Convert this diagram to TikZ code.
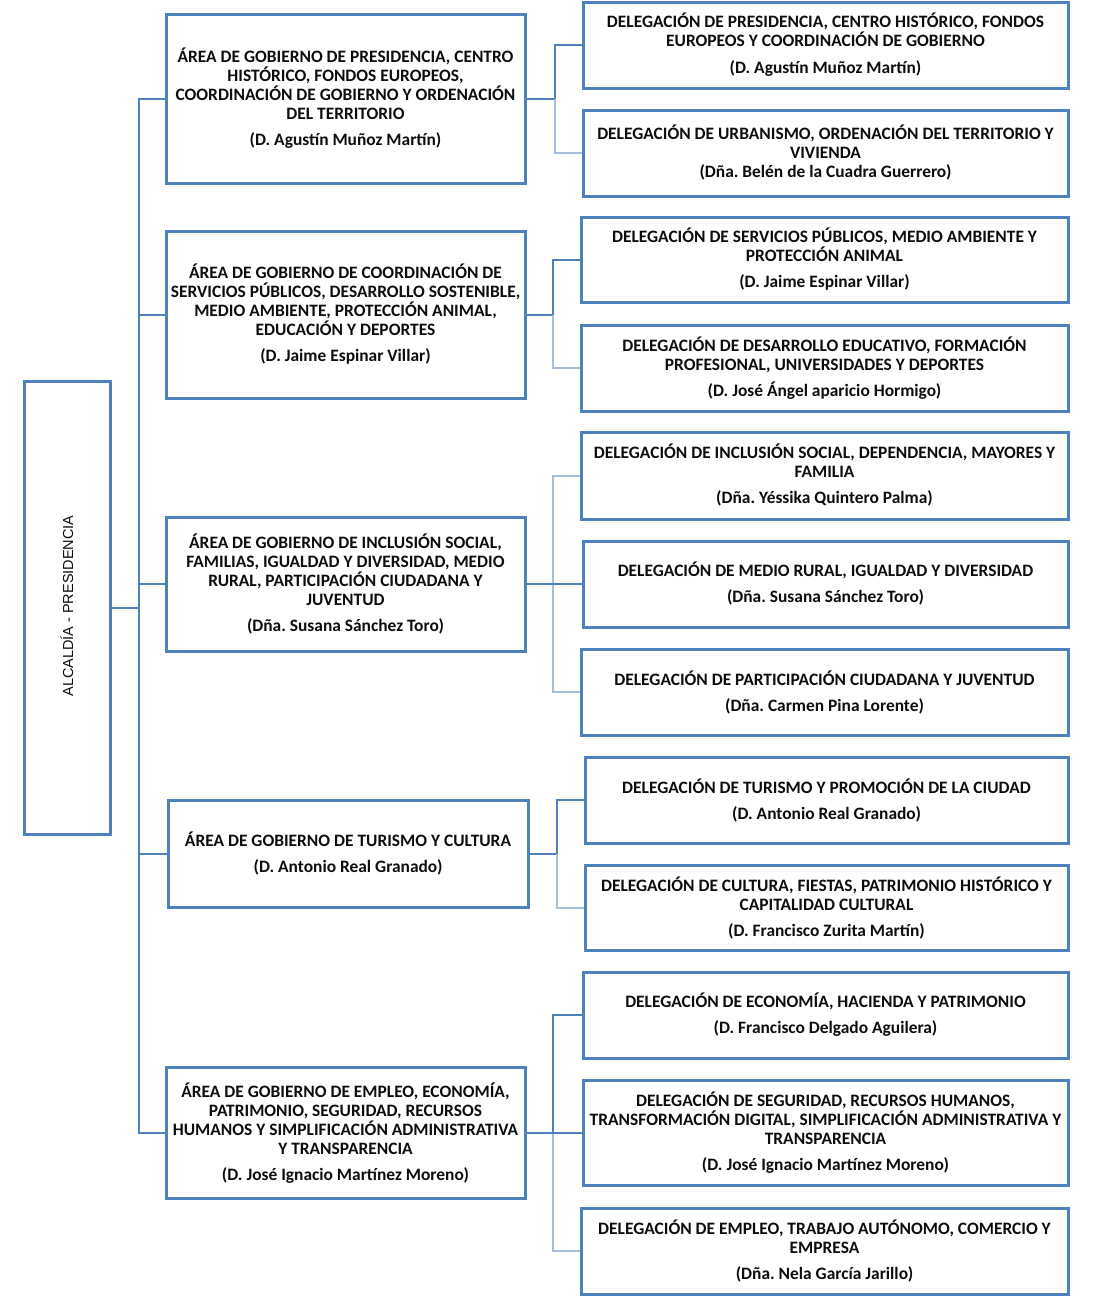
\documentclass[tikz,border=0pt]{standalone}
\usepackage{fontspec}
\setmainfont{Carlito}
\newfontfamily\rootfont{Liberation Sans}
\definecolor{boxblue}{HTML}{4F81BD}
\definecolor{lineblue}{HTML}{4F81BD}
\definecolor{lightblue}{HTML}{A5BFDD}
\begin{document}
\frenchspacing
\begin{tikzpicture}[x=1pt,y=-1pt,
  box/.style={draw=boxblue, line width=3pt, align=center, inner sep=0pt,
    font=\fontsize{17.4}{19}\selectfont\bfseries, text=black!95},
  conn/.style={draw=lineblue, line width=2pt},
  connl/.style={draw=lightblue, line width=2pt}]
\useasboundingbox (0,0) rectangle (1095,1296);

% root
\node[draw=boxblue, line width=3pt, minimum width=86pt, minimum height=453pt] (R) at (67,607.5) {};
\node[rotate=90, font=\rootfont\fontsize{14.5}{17}\selectfont, text=black!95] (Rt) at (67,606) {ALCALDÍA - PRESIDENCIA};

% areas
\node[box, minimum width=359pt, minimum height=169pt] (A1) at (345.5,98.5)
 {ÁREA DE GOBIERNO DE PRESIDENCIA, CENTRO\\HISTÓRICO, FONDOS EUROPEOS,\\COORDINACIÓN DE GOBIERNO Y ORDENACIÓN\\DEL TERRITORIO\\[7pt](D. Agustín Muñoz Martín)};
\node[box, minimum width=359pt, minimum height=167pt] (A2) at (345.5,314.5)
 {ÁREA DE GOBIERNO DE COORDINACIÓN DE\\SERVICIOS PÚBLICOS, DESARROLLO SOSTENIBLE,\\MEDIO AMBIENTE, PROTECCIÓN ANIMAL,\\EDUCACIÓN Y DEPORTES\\[7pt](D. Jaime Espinar Villar)};
\node[box, minimum width=359pt, minimum height=134pt] (A3) at (345.5,584)
 {ÁREA DE GOBIERNO DE INCLUSIÓN SOCIAL,\\FAMILIAS, IGUALDAD Y DIVERSIDAD, MEDIO\\RURAL, PARTICIPACIÓN CIUDADANA Y\\JUVENTUD\\[7pt](Dña. Susana Sánchez Toro)};
\node[box, minimum width=360pt, minimum height=107pt] (A4) at (348,853.5)
 {ÁREA DE GOBIERNO DE TURISMO Y CULTURA\\[7pt](D. Antonio Real Granado)};
\node[box, minimum width=359pt, minimum height=131pt] (A5) at (345.5,1133)
 {ÁREA DE GOBIERNO DE EMPLEO, ECONOMÍA,\\PATRIMONIO, SEGURIDAD, RECURSOS\\HUMANOS Y SIMPLIFICACIÓN ADMINISTRATIVA\\Y TRANSPARENCIA\\[7pt](D. José Ignacio Martínez Moreno)};

% delegations
\node[box, minimum width=485pt, minimum height=86pt] (D1) at (825.5,45)
 {DELEGACIÓN DE PRESIDENCIA, CENTRO HISTÓRICO, FONDOS\\EUROPEOS Y COORDINACIÓN DE GOBIERNO\\[8pt](D. Agustín Muñoz Martín)};
\node[box, minimum width=485pt, minimum height=86pt] (D2) at (825.5,153)
 {DELEGACIÓN DE URBANISMO, ORDENACIÓN DEL TERRITORIO Y\\VIVIENDA\\(Dña. Belén de la Cuadra Guerrero)};
\node[box, minimum width=487pt, minimum height=85pt] (D3) at (824.5,259.5)
 {DELEGACIÓN DE SERVICIOS PÚBLICOS, MEDIO AMBIENTE Y\\PROTECCIÓN ANIMAL\\[7pt](D. Jaime Espinar Villar)};
\node[box, minimum width=487pt, minimum height=86pt] (D4) at (824.5,368)
 {DELEGACIÓN DE DESARROLLO EDUCATIVO, FORMACIÓN\\PROFESIONAL, UNIVERSIDADES Y DEPORTES\\[7pt](D. José Ángel aparicio Hormigo)};
\node[box, minimum width=487pt, minimum height=87pt] (D5) at (824.5,475.5)
 {DELEGACIÓN DE INCLUSIÓN SOCIAL, DEPENDENCIA, MAYORES Y\\FAMILIA\\[7pt](Dña. Yéssika Quintero Palma)};
\node[box, minimum width=485pt, minimum height=86pt] (D6) at (825.5,584)
 {DELEGACIÓN DE MEDIO RURAL, IGUALDAD Y DIVERSIDAD\\[7pt](Dña. Susana Sánchez Toro)};
\node[box, minimum width=487pt, minimum height=86pt] (D7) at (824.5,692)
 {DELEGACIÓN DE PARTICIPACIÓN CIUDADANA Y JUVENTUD\\[7pt](Dña. Carmen Pina Lorente)};
\node[box, minimum width=483pt, minimum height=86pt] (D8) at (826.5,800)
 {DELEGACIÓN DE TURISMO Y PROMOCIÓN DE LA CIUDAD\\[7pt](D. Antonio Real Granado)};
\node[box, minimum width=483pt, minimum height=85pt] (D9) at (826.5,907.5)
 {DELEGACIÓN DE CULTURA, FIESTAS, PATRIMONIO HISTÓRICO Y\\CAPITALIDAD CULTURAL\\[7pt](D. Francisco Zurita Martín)};
\node[box, minimum width=485pt, minimum height=86pt] (D10) at (825.5,1015)
 {DELEGACIÓN DE ECONOMÍA, HACIENDA Y PATRIMONIO\\[7pt](D. Francisco Delgado Aguilera)};
\node[box, minimum width=485pt, minimum height=105pt] (D11) at (825.5,1133)
 {DELEGACIÓN DE SEGURIDAD, RECURSOS HUMANOS,\\TRANSFORMACIÓN DIGITAL, SIMPLIFICACIÓN ADMINISTRATIVA Y\\TRANSPARENCIA\\[7pt](D. José Ignacio Martínez Moreno)};
\node[box, minimum width=487pt, minimum height=86pt] (D12) at (824.5,1251)
 {DELEGACIÓN DE EMPLEO, TRABAJO AUTÓNOMO, COMERCIO Y\\EMPRESA\\[7pt](Dña. Nela García Jarillo)};

% main spine
\coordinate (s0) at (139,607.5);
\draw[conn] (R.east) -- (s0);
\draw[conn] (s0) |- (A1.west);
\draw[conn] (s0) |- (A2.west);
\draw[conn] (s0) |- (A3.west);
\draw[conn] (s0) |- (A4.west);
\draw[conn] (s0) |- (A5.west);

% area 1
\coordinate (j1) at (555,98.5);
\draw[conn] (A1.east) -- (j1);
\draw[conn] (j1) |- (D1.west);
\draw[connl] (j1) |- (D2.west);
% area 2
\coordinate (j2) at (553,314.5);
\draw[conn] (A2.east) -- (j2);
\draw[conn] (j2) |- (D3.west);
\draw[connl] (j2) |- (D4.west);
% area 3
\coordinate (j3) at (553,584);
\draw[connl] (j3) |- (D5.west);
\draw[connl] (j3) |- (D7.west);
\draw[conn] (A3.east) -- (D6.west);
% area 4
\coordinate (j4) at (557,853.5);
\draw[conn] (A4.east) -- (j4);
\draw[conn] (j4) |- (D8.west);
\draw[connl] (j4) |- (D9.west);
% area 5
\coordinate (j5) at (553,1133);
\draw[conn] (j5) |- (D10.west);
\draw[connl] (j5) |- (D12.west);
\draw[conn] (A5.east) -- (D11.west);
\end{tikzpicture}
\end{document}
